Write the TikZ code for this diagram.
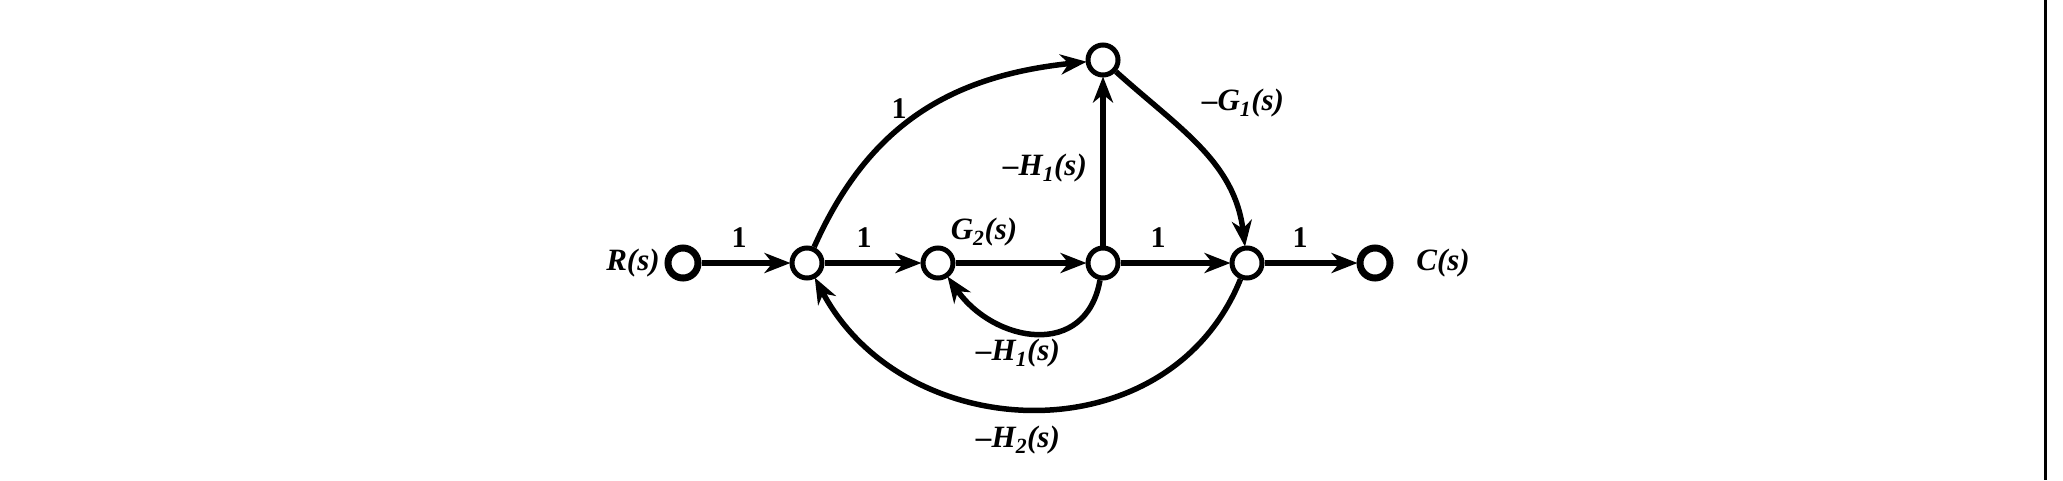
\documentclass[tikz,border=0pt]{standalone}
\usepackage{fontspec}
\setmainfont{Liberation Serif}
\usetikzlibrary{arrows.meta}
\tikzset{
  sig/.style={circle,draw=black,line width=5pt,minimum size=30pt,inner sep=0pt,fill=white},
  thick sig/.style={sig,line width=7pt},
  br/.style={line width=5.5pt,draw=black,-{Stealth[length=26pt,width=20pt,inset=8pt]},shorten >=-1pt},
  lab/.style={font=\fontsize{31}{36}\selectfont\bfseries\itshape,inner sep=0pt},
  one/.style={font=\fontsize{30}{36}\selectfont\bfseries,inner sep=0pt}
}
\begin{document}
\begin{tikzpicture}[x=1pt,y=-1pt]
\useasboundingbox (0,0) rectangle (2063,480);
\fill[white] (0,0) rectangle (2063,480);
\draw[line width=3pt] (2045,0) -- (2045,480);
% nodes
\node[thick sig] (R) at (683,263) {};
\node[sig] (n1) at (807,263) {};
\node[sig] (n2) at (938,263) {};
\node[sig] (n3) at (1103,263) {};
\node[sig] (n4) at (1247,263) {};
\node[thick sig] (C) at (1375,263) {};
\node[sig] (t) at (1103,60) {};
% branches
\draw[br] (R) -- (n1);
\draw[br] (n1) -- (n2);
\draw[br] (n2) -- (n3);
\draw[br] (n3) -- (n4);
\draw[br] (n4) -- (C);
\draw[br] (n3) -- (t);
\draw[br] (n1) to[out=66,in=186,looseness=1.05] (t);
\draw[br] (t) to[out=-42,in=97,looseness=1.0] (n4);
\draw[br] (n3) to[out=-100,in=-55,looseness=1.35] (n2);
\draw[br] (n4) to[out=-112,in=-62,looseness=1.15] (n1);
% labels
\node[lab] (lR) at (633,263) {R(s)};
\node[lab] (lC) at (1443,263) {C(s)};
\node[one] (l1) at (739,238) {1};
\node[one] (l2) at (864,238) {1};
\node[lab] (l3) at (984,232) {G\textsubscript{2}(s)};
\node[one] (l4) at (1158,238) {1};
\node[one] (l5) at (1300,238) {1};
\node[one] (l6) at (899,109) {1};
\node[lab] (l7) at (1243,103) {–G\textsubscript{1}(s)};
\node[lab] (l8) at (1045,168) {–H\textsubscript{1}(s)};
\node[lab] (l9) at (1018,353) {–H\textsubscript{1}(s)};
\node[lab] (l10) at (1018,440) {–H\textsubscript{2}(s)};
\end{tikzpicture}
\end{document}
